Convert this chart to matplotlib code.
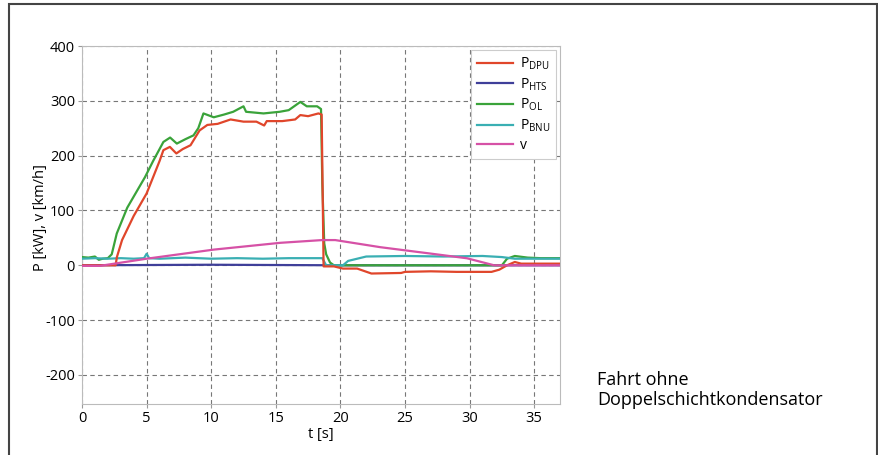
import matplotlib
matplotlib.use('Agg')
import matplotlib.pyplot as plt
from matplotlib.patches import Rectangle

plt.rcParams['font.family'] = ['Open Sans', 'DejaVu Sans']
plt.rcParams['mathtext.fontset'] = 'custom'
plt.rcParams['mathtext.rm'] = 'Open Sans'
plt.rcParams['axes.unicode_minus'] = False

# P_DPU
t_dpu = [0, 2.6, 2.7, 3.1, 4.0, 5.0, 6.0, 6.3, 6.8, 7.3, 7.8, 8.4, 9.1, 9.7, 10.5,
         11.5, 12.5, 13.5, 14.1, 14.3, 15.5, 16.5, 16.9, 17.5, 18.3, 18.55, 18.7,
         19.5, 20.2, 21.3, 22.4, 24.7, 25.0, 27, 29, 31.7, 32.3, 32.9, 33.5, 34, 37]
p_dpu = [0, 0, 15, 46, 90, 131, 190, 210, 216, 204, 212, 219, 246, 256, 258,
         266, 262, 262, 255, 263, 263, 266, 274, 272, 277, 275, -2,
         -2, -6, -6, -15, -14, -12, -11, -12, -12, -8, 0, 6, 3, 3]

# P_HTS
t_hts = [0, 10, 20, 30, 37]
p_hts = [0, 1, 0, 0, 0]

# P_OL
t_ol = [0, 0.5, 1.0, 1.3, 1.6, 2.0, 2.3, 2.69, 3.5, 4.88, 5.5, 6.3, 6.82, 7.34, 8.0,
        8.63, 9.0, 9.4, 10.2, 11.0, 11.7, 12.5, 12.7, 14.05, 15.3, 16.0, 16.9, 17.4,
        18.2, 18.5, 18.6, 18.75, 18.9, 19.2, 19.5, 32.5, 32.9, 33.5, 34.5, 35.5, 37]
p_ol = [15, 14, 16, 10, 12, 13, 20, 58, 105, 161, 190, 225, 233, 222, 230,
        237, 250, 277, 270, 275, 280, 290, 280, 277, 280, 283, 298, 290,
        290, 285, 150, 40, 20, 5, 0, 0, 12, 17, 14, 13, 13]

# P_BNU
t_bnu = [0, 1, 2, 3, 4, 4.8, 5.0, 5.2, 6, 8, 10, 12, 14, 16, 18.6, 18.9, 20.2,
         20.6, 21.3, 22, 25, 28, 31, 32.5, 33.5, 35, 37]
p_bnu = [12, 13, 12, 13, 12, 13, 21, 13, 12, 14, 12, 13, 12, 13, 13, 0, 0,
         8, 12, 16, 17, 16, 17, 15, 12, 12, 12]

# v
t_v = [0, 1.4, 5.0, 10.2, 15.35, 18.6, 19.6, 23.1, 27.1, 29.8, 31.9, 37]
v_v = [-1, -1, 12, 28.6, 41, 46, 46, 33, 21, 12.8, 0, 0]

fig = plt.figure(figsize=(8.79, 4.55), dpi=100)
ax = fig.add_axes([0.0933, 0.1121, 0.5438, 0.7868])

ax.plot(t_dpu, p_dpu, color='#e0462b', lw=1.6, label=r'P$_{\mathrm{DPU}}$', zorder=4)
ax.plot(t_hts, p_hts, color='#3f3f99', lw=1.6, label=r'P$_{\mathrm{HTS}}$', zorder=3)
ax.plot(t_ol, p_ol, color='#3aa33a', lw=1.6, label=r'P$_{\mathrm{OL}}$', zorder=3)
ax.plot(t_bnu, p_bnu, color='#3aafb3', lw=1.6, label=r'P$_{\mathrm{BNU}}$', zorder=3)
ax.plot(t_v, v_v, color='#d651a6', lw=1.6, label='v', zorder=5)

ax.set_xlim(0, 37)
ax.set_ylim(-253, 400)
ax.set_xticks([0, 5, 10, 15, 20, 25, 30, 35])
ax.set_yticks([-200, -100, 0, 100, 200, 300, 400])
ax.grid(True, color='#777777', ls=(0, (4, 3)), lw=0.8)
for s in ax.spines.values():
    s.set_color('#bbbbbb')
ax.tick_params(labelsize=10.5, color='#999999', length=3, pad=2)
ax.set_xlabel('t [s]', fontsize=10.5, labelpad=1)
ax.set_ylabel('P [kW], v [km/h]', fontsize=10.5)
ax.yaxis.set_label_coords(-0.071, 0.52)

leg = ax.legend(loc='upper right', fontsize=10, fancybox=False, framealpha=1,
                edgecolor='#cccccc', handlelength=2.6, labelspacing=0.3,
                borderaxespad=0.3, handletextpad=0.5)
leg.get_frame().set_linewidth(0.8)

fig.text(0.679, 0.101, 'Fahrt ohne\nDoppelschichtkondensator', fontsize=13,
         va='bottom', ha='left', linespacing=1.15)

fig.patches.append(Rectangle((0.0102, -0.05), 0.9875, 1.041, transform=fig.transFigure,
                             fill=False, edgecolor='#444444', lw=1.5))

fig.savefig('out.png', dpi=100)
